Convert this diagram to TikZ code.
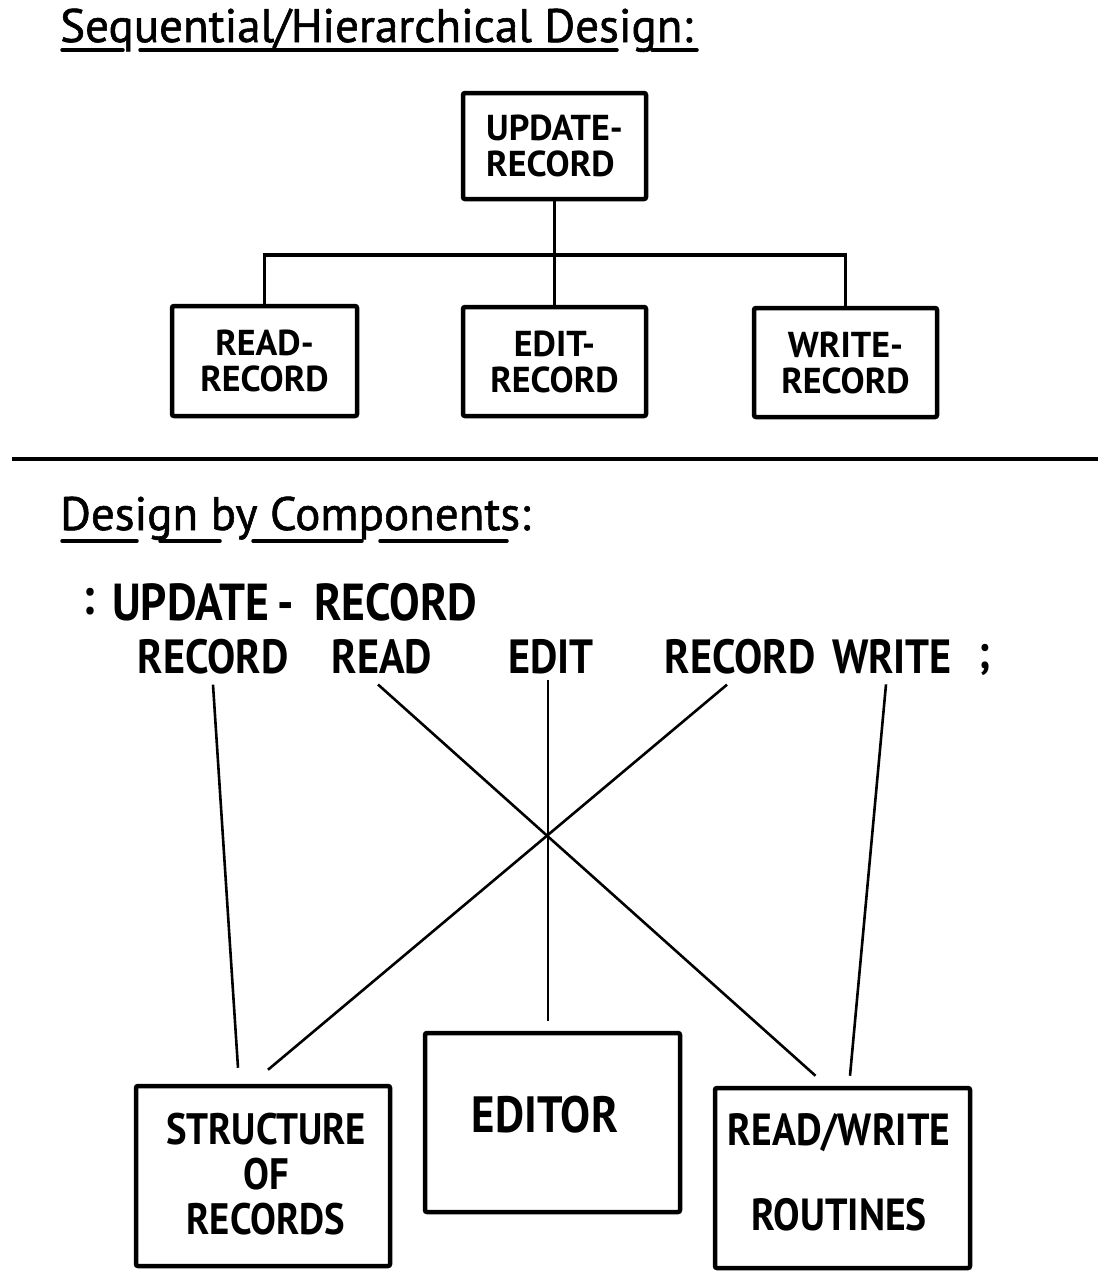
\documentclass[tikz,border=0pt]{standalone}
\usepackage{fontspec}
\usetikzlibrary{calc}
\newfontfamily\letterfont[FakeStretch=0.88]{PT Sans}
\newfontfamily\boxfont{PT Sans}
\newfontfamily\handfont[FakeBold=1.2]{PT Sans}
\begin{document}
\begin{tikzpicture}[x=1pt,y=-1pt,
  box/.style={draw, line width=4.5pt, rounded corners=2pt, inner sep=0pt},
  link/.style={line width=3.5pt},
  wire/.style={line width=2.6pt},
  rule/.style={line width=3.5pt, line cap=round},
  heading/.style={font=\handfont\fontsize{47}{50}\selectfont, anchor=base west, inner sep=0pt},
  small/.style={font=\boxfont\bfseries\fontsize{36}{36}\selectfont},
  word/.style={font=\letterfont\bfseries\fontsize{48}{48}\selectfont, inner sep=0pt},
  firstline/.style={font=\letterfont\bfseries\fontsize{52}{52}\selectfont, inner sep=0pt},
  big/.style={font=\letterfont\bfseries\fontsize{44}{45}\selectfont, align=center, inner sep=0pt}]
\useasboundingbox (0,0) rectangle (1108,1275);

% ---- sequential / hierarchical design ----
\node[heading] (title1) at (60,42) {Sequential/Hierarchical Design:};
\draw[rule] (62,50) -- (123,50) (140,50) -- (617,50) (652,50) -- (697,50);

\node[box, minimum width=183pt, minimum height=106pt, small, align=left] (upd) at (554.5,146) {UPDATE-\\RECORD};
\node[box, minimum width=185pt, minimum height=110pt, small, align=center] (rd) at (264.5,361) {READ-\\RECORD};
\node[box, minimum width=183pt, minimum height=109pt, small, align=center] (ed) at (554.5,361.5) {EDIT-\\RECORD};
\node[box, minimum width=183pt, minimum height=109pt, small, align=center] (wr) at (845.5,362.5) {WRITE-\\RECORD};

\coordinate (bus) at (554.5,255);
\draw[link] (upd.south) -- (bus);
\draw[link] (bus) -- (ed.north);
\draw[link] (rd.north) |- (bus) -| (wr.north);

% ---- divider ----
\draw[line width=3.5pt] (12,459) -- (1098,459);

% ---- design by components ----
\node[heading] (title2) at (60,530) {Design by Components:};
\draw[rule] (62,541) -- (137,541) (160,541) -- (220,541) (253,541) -- (362,541) (380,541) -- (507,541);

\node[firstline, anchor=west] (colon) at (82,602) {:};
\node[firstline, anchor=west] (upw) at (112,602) {UPDATE\hspace{8pt}-};
\node[firstline, anchor=west] (recw) at (314,602) {RECORD};

\node[word] (rec1) at (213,657) {RECORD};
\node[word] (readw) at (382,657) {READ};
\node[word] (editw) at (551,657) {EDIT};
\node[word] (rec2) at (740,657) {RECORD};
\node[word] (writew) at (892,657) {WRITE};
\node[word] (semi) at (985,660) {;};

\node[box, minimum width=254pt, minimum height=180pt] (sr) at (263,1176) {};
\node[box, minimum width=255pt, minimum height=179pt] (edb) at (552.5,1122.5) {};
\node[box, minimum width=255pt, minimum height=180pt] (rw) at (842.5,1178) {};

\node[big] (srtext) at (266,1174) {STRUCTURE\\OF\\RECORDS};
\node[big, font=\letterfont\bfseries\fontsize{51}{51}\selectfont] (edtext) at (545,1115) {EDITOR};
\node[big, font=\letterfont\bfseries\fontsize{45}{85}\selectfont] (rwtext) at (839,1172) {READ/WRITE\\ROUTINES};

\draw[wire] ($(rec1.south)+(0,10)$) -- ($(sr.north)+(-25,-16)$);
\draw[wire] ($(readw.south)+(-4,10)$) -- ($(rw.north)+(-27,-10)$);
\draw[wire] ($(editw.south)+(-3,5)$) -- ($(edb.north)+(-4.5,-10)$);
\draw[wire] ($(rec2.south)+(-13,10)$) -- ($(sr.north)+(5,-14)$);
\draw[wire] ($(writew.south)+(-6,10)$) -- ($(rw.north)+(7.5,-10)$);
\end{tikzpicture}
\end{document}
